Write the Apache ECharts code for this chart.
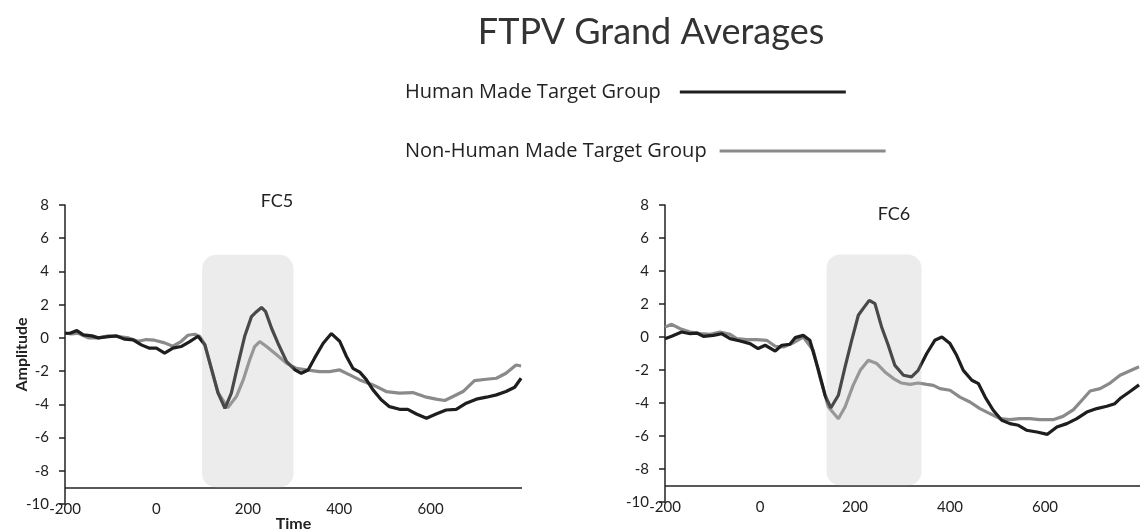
<!DOCTYPE html>
<html>
<head>
<meta charset="utf-8">
<title>FTPV Grand Averages</title>
<script src="https://cdn.jsdelivr.net/npm/echarts@6/dist/echarts.min.js"></script>
<style>
  html, body { margin: 0; padding: 0; background: #fff; }
  #main { width: 1147px; height: 532px; }
</style>
</head>
<body>
<div id="main"></div>
<script>
// [time (ms), amplitude]
const fc5Human = [
  [-200, 0.28], [-189, 0.28], [-174, 0.44], [-160, 0.18], [-141, 0.12], [-127, 0.0],
  [-105, 0.08], [-87, 0.12], [-69, -0.08], [-51, -0.12], [-33, -0.42], [-15, -0.62],
  [0, -0.62], [18, -0.92], [36, -0.62], [54, -0.52], [73, -0.22], [91, 0.1],
  [106, -0.42], [121, -1.93], [135, -3.33], [150, -4.24], [164, -3.33], [179, -1.53],
  [193, 0.08], [208, 1.28], [219, 1.58], [230, 1.83], [239, 1.58], [252, 0.58],
  [266, -0.32], [285, -1.43], [303, -1.93], [317, -2.13], [332, -1.93], [346, -1.22],
  [365, -0.32], [383, 0.26], [401, -0.2], [416, -1.12], [430, -1.83], [445, -2.06],
  [459, -2.5], [474, -3.13], [492, -3.73], [510, -4.14], [532, -4.3], [550, -4.3],
  [569, -4.58], [591, -4.84], [612, -4.58], [634, -4.34], [656, -4.3], [678, -3.93],
  [700, -3.69], [722, -3.57], [744, -3.43], [765, -3.23], [784, -2.97], [798, -2.43]
]
const fc5NonHuman = [
  [-200, 0.28], [-185, 0.24], [-171, 0.28], [-149, 0.0], [-127, 0.0], [-105, 0.12],
  [-83, 0.08], [-61, 0.0], [-40, -0.2], [-22, -0.1], [-4, -0.14], [18, -0.3],
  [36, -0.5], [54, -0.22], [69, 0.16], [84, 0.22], [95, 0.08], [106, -0.4],
  [121, -1.9], [135, -3.3], [156, -4.2], [175, -3.53], [190, -2.53], [204, -1.33],
  [215, -0.52], [226, -0.22], [241, -0.52], [263, -1.02], [285, -1.53], [306, -1.83],
  [328, -1.93], [357, -2.03], [379, -2.03], [401, -1.93], [423, -2.23], [445, -2.53],
  [474, -2.83], [503, -3.23], [532, -3.33], [561, -3.29], [591, -3.57], [612, -3.69],
  [631, -3.77], [649, -3.53], [671, -3.23], [696, -2.57], [722, -2.49], [744, -2.43],
  [765, -2.13], [787, -1.63], [798, -1.69]
]
const fc6Human = [
  [-200, -0.1], [-186, 0.04], [-165, 0.3], [-147, 0.2], [-133, 0.24], [-119, 0.04],
  [-98, 0.1], [-81, 0.2], [-63, -0.1], [-42, -0.24], [-21, -0.4], [-4, -0.7],
  [11, -0.5], [32, -0.85], [46, -0.5], [63, -0.44], [74, -0.04], [91, 0.1],
  [105, -0.2], [123, -2.0], [137, -3.53], [149, -4.3], [165, -3.53], [179, -1.82],
  [193, -0.2], [207, 1.32], [217, 1.72], [230, 2.22], [242, 2.02], [256, 0.61],
  [270, -0.5], [284, -1.72], [302, -2.32], [319, -2.42], [333, -2.02], [351, -1.0],
  [368, -0.2], [383, 0.0], [400, -0.4], [414, -1.11], [428, -2.02], [446, -2.62],
  [460, -2.83], [474, -3.64], [491, -4.44], [509, -5.05], [526, -5.25], [544, -5.35],
  [561, -5.65], [583, -5.76], [605, -5.9], [625, -5.45], [646, -5.25], [667, -4.95],
  [688, -4.55], [709, -4.34], [730, -4.2], [747, -4.04], [758, -3.73], [779, -3.3],
  [798, -2.9]
]
const fc6NonHuman = [
  [-200, 0.6], [-186, 0.77], [-168, 0.5], [-147, 0.3], [-126, 0.2], [-105, 0.16],
  [-84, 0.3], [-63, 0.16], [-49, -0.1], [-28, -0.16], [-7, -0.16], [14, -0.2],
  [32, -0.56], [49, -0.6], [67, -0.4], [91, 0.0], [112, -0.8], [126, -2.42],
  [144, -4.24], [165, -4.95], [179, -4.24], [196, -2.93], [211, -2.02], [228, -1.41],
  [246, -1.61], [263, -2.12], [281, -2.52], [298, -2.79], [316, -2.87], [333, -2.79],
  [351, -2.87], [365, -2.93], [379, -3.13], [400, -3.23], [421, -3.64], [442, -3.94],
  [463, -4.34], [484, -4.64], [505, -4.95], [526, -5.01], [547, -4.95], [568, -4.95],
  [589, -5.01], [617, -5.01], [638, -4.81], [660, -4.4], [681, -3.73], [695, -3.27],
  [716, -3.13], [737, -2.79], [758, -2.32], [798, -1.8]
]
// analysis window: [start ms, top, end ms, bottom]
const fc5Window = [[100, 5, 300, -9]]
const fc6Window = [[140, 5, 340, -9]]

const humanName = 'Human Made Target Group'
const nonHumanName = 'Non-Human Made Target Group'
const font = 'Lato, "Open Sans", sans-serif'
const legendFont = '"Open Sans", Lato, sans-serif'
const ink = '#222'

function renderWindow(params, api) {
  const a = api.coord([api.value(0), api.value(1)])
  const b = api.coord([api.value(2), api.value(3)])
  return {
    type: 'rect',
    shape: { x: a[0], y: a[1], width: b[0] - a[0], height: b[1] - a[1], r: 14 },
    style: { fill: 'rgba(187,187,187,0.28)' }
  }
}

function makeXAxis(idx, withName) {
  return {
    gridIndex: idx,
    type: 'value',
    min: -200,
    max: 800,
    interval: 200,
    axisLine: { show: false, onZero: false },
    axisTick: { show: false },
    splitLine: { show: false },
    axisLabel: { margin: -2, fontSize: 15, color: ink, fontFamily: font, showMaxLabel: false },
    name: withName ? 'Time' : '',
    nameLocation: 'middle',
    nameGap: 12,
    nameMoveOverlap: false,
    nameTextStyle: { fontSize: 16, fontWeight: 'bold', color: ink, fontFamily: font }
  }
}

function makeYAxis(idx, withName) {
  return {
    gridIndex: idx,
    type: 'value',
    min: -10,
    max: 8,
    interval: 2,
    axisLine: { show: true, onZero: false, lineStyle: { color: ink, width: 1.5 } },
    axisTick: { show: true, length: 6, lineStyle: { color: ink, width: 1.5 } },
    splitLine: { show: false },
    axisLabel: { margin: 16, fontSize: 15, color: ink, fontFamily: font },
    name: withName ? 'Amplitude' : '',
    nameLocation: 'middle',
    nameGap: 35,
    nameRotate: 90,
    nameMoveOverlap: false,
    nameTextStyle: { fontSize: 16, fontWeight: 'bold', color: ink, fontFamily: font }
  }
}

function lineSeries(name, idx, data, color, withBase) {
  const s = {
    name: name,
    type: 'line',
    xAxisIndex: idx,
    yAxisIndex: idx,
    data: data,
    showSymbol: false,
    smooth: false,
    z: 2,
    itemStyle: { color: color },
    lineStyle: { color: color, width: 3.2 }
  }
  if (withBase) {
    s.markLine = {
      silent: true,
      symbol: 'none',
      label: { show: false },
      lineStyle: { color: ink, width: 1.5, type: 'solid' },
      data: [{ yAxis: -9 }]
    }
  }
  return s
}

function windowSeries(idx, data) {
  return {
    type: 'custom',
    xAxisIndex: idx,
    yAxisIndex: idx,
    data: data,
    encode: { x: [0, 2], y: [1, 3] },
    renderItem: renderWindow,
    silent: true,
    z: 5
  }
}

const chart = echarts.init(document.getElementById('main'))
const option = {
  animation: false,
  backgroundColor: '#fff',
  title: [
    { text: 'FTPV Grand Averages', left: 651, top: 14, textAlign: 'center', padding: 0,
      textStyle: { fontSize: 36, fontWeight: 'normal', color: '#333', fontFamily: font } },
    { text: 'FC5', left: 277, top: 192, textAlign: 'center', padding: 0,
      textStyle: { fontSize: 18, fontWeight: 'normal', color: ink, fontFamily: font } },
    { text: 'FC6', left: 894, top: 205, textAlign: 'center', padding: 0,
      textStyle: { fontSize: 18, fontWeight: 'normal', color: ink, fontFamily: font } }
  ],
  legend: [
    { data: [humanName], left: 405, top: 82, padding: 0, align: 'right', icon: 'rect',
      itemWidth: 166, itemHeight: 3, selectedMode: false,
      textStyle: { fontSize: 20, color: ink, fontFamily: legendFont, padding: [0, 14, 0, 0] } },
    { data: [nonHumanName], left: 405, top: 141, padding: 0, align: 'right', icon: 'rect',
      itemWidth: 166, itemHeight: 3, selectedMode: false,
      textStyle: { fontSize: 20, color: ink, fontFamily: legendFont, padding: [0, 8, 0, 0] } }
  ],
  grid: [
    { left: 65, top: 205, width: 457, height: 299, outerBoundsMode: 'none' },
    { left: 665, top: 205, width: 475, height: 297, outerBoundsMode: 'none' }
  ],
  xAxis: [makeXAxis(0, true), makeXAxis(1, false)],
  yAxis: [makeYAxis(0, true), makeYAxis(1, false)],
  series: [
    lineSeries(nonHumanName, 0, fc5NonHuman, '#8a8a8a', false),
    lineSeries(humanName, 0, fc5Human, '#1e1e1e', true),
    windowSeries(0, fc5Window),
    lineSeries(nonHumanName, 1, fc6NonHuman, '#8a8a8a', false),
    lineSeries(humanName, 1, fc6Human, '#1e1e1e', true),
    windowSeries(1, fc6Window)
  ]
}
chart.setOption(option)
</script>
</body>
</html>
